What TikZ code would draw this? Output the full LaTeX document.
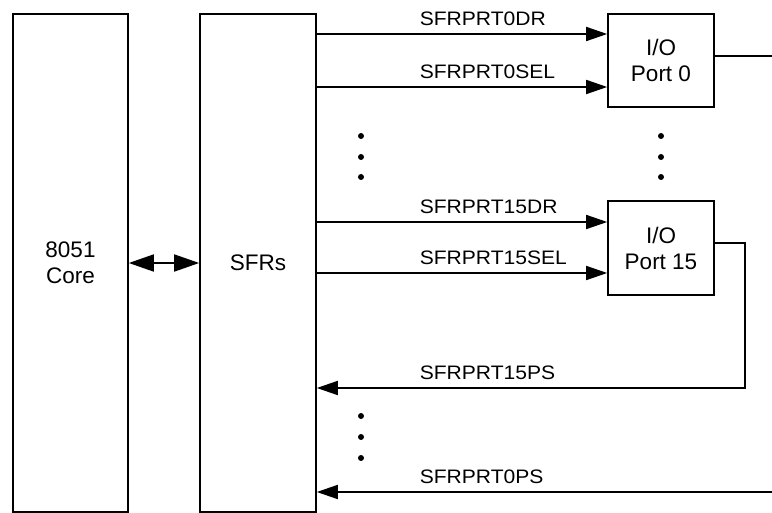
\documentclass[tikz,border=0pt]{standalone}
\usepackage{fontspec}
\setmainfont{Liberation Sans}
\newfontfamily\sigfont[FakeStretch=1.08]{Liberation Sans}
\usetikzlibrary{arrows.meta}

\begin{document}
\begin{tikzpicture}[x=1pt,y=-1pt,line width=1.6pt]
	\tikzstyle{every node}+=[inner sep=0pt]
	\tikzstyle{blk}=[draw,rectangle,align=center,font=\fontsize{22.5}{26}\selectfont]
	\tikzstyle{sig}=[-{Triangle[length=21pt,width=14pt]}]
	\tikzstyle{lbl}=[anchor=base west,font=\sigfont\fontsize{19.5}{22}\selectfont]
	\useasboundingbox (0,0) rectangle (772,513);
	% blocks
	\node [blk,minimum width=115pt,minimum height=498pt] (core) at (70.5,263) {8051\\Core};
	\node [blk,minimum width=116pt,minimum height=498pt] (sfr) at (258,263) {SFRs};
	\node [blk,minimum width=106pt,minimum height=93pt] (port0) at (661,60.5) {I/O\\Port 0};
	\node [blk,minimum width=106pt,minimum height=94pt] (port15) at (661,248) {I/O\\Port 15};
	% core <-> sfrs
	\draw [{Triangle[length=25pt,width=17pt]}-{Triangle[length=25pt,width=17pt]}] (core.east) -- (sfr.west);
	% port 0 inputs
	\coordinate (dr0) at ([yshift=26.5pt]port0.west);
	\coordinate (sel0) at ([yshift=-26.5pt]port0.west);
	\draw [sig] (sfr.east |- dr0) -- (dr0);
	\draw [sig] (sfr.east |- sel0) -- (sel0);
	\node [lbl] (l0dr) at (419,25.5) {SFRPRT0DR};
	\node [lbl] (l0sel) at (419,78.5) {SFRPRT0SEL};
	% port 15 inputs
	\coordinate (dr15) at ([yshift=26pt]port15.west);
	\coordinate (sel15) at ([yshift=-25pt]port15.west);
	\draw [sig] (sfr.east |- dr15) -- (dr15);
	\draw [sig] (sfr.east |- sel15) -- (sel15);
	\node [lbl] (l15dr) at (419,213.5) {SFRPRT15DR};
	\node [lbl] (l15sel) at (419,264.5) {SFRPRT15SEL};
	% port outputs / pin state back to sfrs
	\coordinate (out0) at (772,56);
	\draw (port0.east |- out0) -- (out0);
	\coordinate (bend15) at (745,243);
	\coordinate (ps15) at (745,388);
	\draw [sig] (port15.east |- bend15) -- (bend15) -- (ps15) -- (sfr.east |- ps15);
	\node [lbl] (l15ps) at (419,379.5) {SFRPRT15PS};
	\coordinate (ps0) at (772,492);
	\draw [sig] (ps0) -- (sfr.east |- ps0);
	\node [lbl] (l0ps) at (419,483.5) {SFRPRT0PS};
	% dots
	\foreach \y in {136,157,177} {
		\fill (361,\y) circle (3pt);
		\fill (661,\y) circle (3pt);
	}
	\foreach \y in {416,437,458}
		\fill (361,\y) circle (3pt);
\end{tikzpicture}
\end{document}
